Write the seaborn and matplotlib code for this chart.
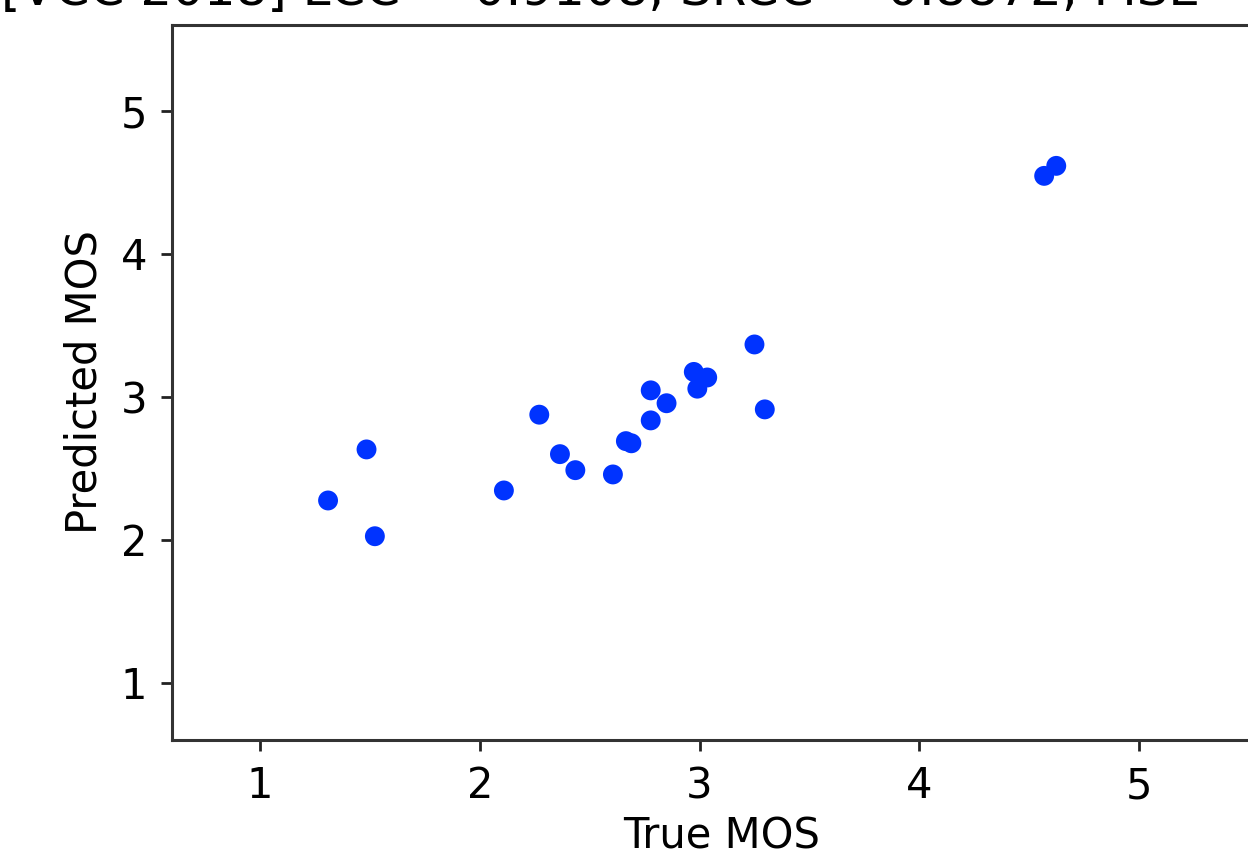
import matplotlib
matplotlib.use("Agg")
import matplotlib.pyplot as plt
import seaborn as sns
import pandas as pd

true_mos = [1.31, 1.485, 1.523, 2.11, 2.271, 2.365, 2.435, 2.606, 2.665, 2.69,
            2.778, 2.778, 2.85, 2.974, 2.99, 3.035, 3.25, 3.297, 4.568, 4.623]
pred_mos = [2.275, 2.632, 2.025, 2.345, 2.875, 2.599, 2.487, 2.457, 2.69, 2.675,
            2.835, 3.045, 2.955, 3.174, 3.057, 3.135, 3.366, 2.912, 4.545, 4.615]
ticks = [1, 2, 3, 4, 5]
title = "[VCC 2018] LCC = 0.9108, SRCC = 0.8872, MSE = 0.1745"

df = pd.DataFrame({"True MOS": true_mos, "Predicted MOS": pred_mos})

sns.set_style("ticks")
plt.rcParams["font.family"] = ["DejaVu Sans"]
plt.rcParams["text.color"] = "black"
plt.rcParams["axes.labelcolor"] = "black"
plt.rcParams["xtick.color"] = "black"
plt.rcParams["ytick.color"] = "black"

fig = plt.figure(figsize=(12.48, 8.55), dpi=100)
ax = fig.add_axes([172/1248, 115/855, 1099/1248, 715/855])
sns.scatterplot(data=df, x="True MOS", y="Predicted MOS", ax=ax,
                color="#0033ff", s=205, edgecolor="none", linewidth=0)
ax.set_xlim(0.6, 5.6)
ax.set_ylim(0.6, 5.6)
ax.set_xticks(ticks)
ax.set_yticks(ticks)
ax.tick_params(axis="both", labelsize=30, length=8, width=2, pad=10, color="#222222")
for s in ax.spines.values():
    s.set_linewidth(2.2)
    s.set_color("#333333")
ax.set_xlabel("True MOS", fontsize=30, labelpad=6)
ax.set_ylabel("Predicted MOS", fontsize=30, labelpad=11)
ax.set_title(title, fontsize=36, pad=14.5, x=0.503)

fig.savefig("out.png", dpi=100)
